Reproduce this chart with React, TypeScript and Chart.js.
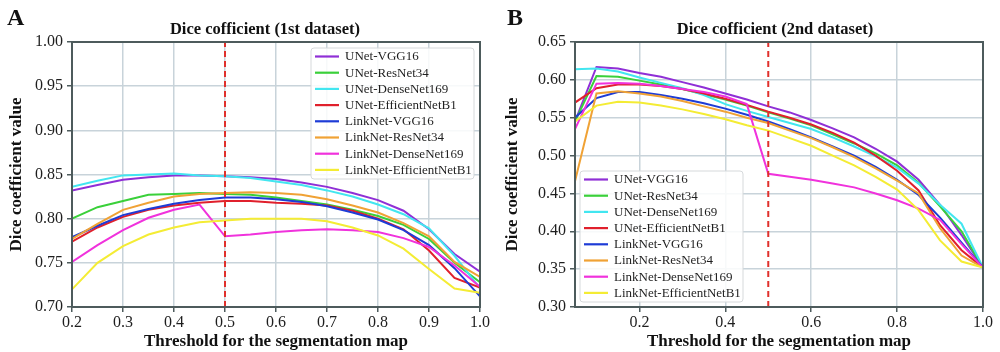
import React, { useEffect, useRef } from "react";
import { Chart, registerables } from "chart.js";

Chart.register(...registerables);

// ---------- data ----------
const seriesNames = [
  "UNet-VGG16",
  "UNet-ResNet34",
  "UNet-DenseNet169",
  "UNet-EfficientNetB1",
  "LinkNet-VGG16",
  "LinkNet-ResNet34",
  "LinkNet-DenseNet169",
  "LinkNet-EfficientNetB1",
];
const seriesColors = [
  "#8f2fd6",
  "#3ad03a",
  "#42e6f0",
  "#e0202c",
  "#1e3cd6",
  "#f0a235",
  "#f032dc",
  "#f4ec34",
];

const thresholds1 = [0.2, 0.25, 0.3, 0.35, 0.4, 0.45, 0.5, 0.55, 0.6, 0.65, 0.7, 0.75, 0.8, 0.85, 0.9, 0.95, 1.0];
const unetVgg16A = [0.832, 0.838, 0.844, 0.847, 0.849, 0.849, 0.848, 0.847, 0.845, 0.841, 0.836, 0.829, 0.821, 0.809, 0.788, 0.76, 0.74];
const unetResNet34A = [0.8, 0.813, 0.82, 0.827, 0.828, 0.829, 0.828, 0.827, 0.824, 0.82, 0.816, 0.81, 0.803, 0.793, 0.777, 0.75, 0.728];
const unetDenseNet169A = [0.836, 0.843, 0.849, 0.85, 0.851, 0.849, 0.848, 0.846, 0.842, 0.838, 0.832, 0.825, 0.816, 0.805, 0.789, 0.758, 0.721];
const unetEffB1A = [0.774, 0.79, 0.802, 0.81, 0.815, 0.818, 0.82, 0.82, 0.818, 0.817, 0.815, 0.809, 0.8, 0.788, 0.764, 0.733, 0.722];
const linkVgg16A = [0.779, 0.792, 0.804, 0.811, 0.817, 0.821, 0.824, 0.824, 0.822, 0.819, 0.814, 0.807, 0.799, 0.787, 0.77, 0.744, 0.712];
const linkResNet34A = [0.777, 0.794, 0.81, 0.818, 0.825, 0.828, 0.829, 0.83, 0.829, 0.827, 0.822, 0.815, 0.807, 0.795, 0.78, 0.751, 0.734];
const linkDenseNet169A = [0.751, 0.77, 0.787, 0.801, 0.81, 0.816, 0.78, 0.782, 0.785, 0.787, 0.788, 0.787, 0.785, 0.778, 0.768, 0.747, 0.723];
const linkEffB1A = [0.72, 0.75, 0.769, 0.782, 0.79, 0.796, 0.798, 0.8, 0.8, 0.8, 0.797, 0.79, 0.781, 0.766, 0.743, 0.721, 0.716];

const thresholds2 = [0.05, 0.1, 0.15, 0.2, 0.25, 0.3, 0.35, 0.4, 0.45, 0.5, 0.55, 0.6, 0.65, 0.7, 0.75, 0.8, 0.85, 0.9, 0.95, 1.0];
const unetVgg16B = [0.545, 0.617, 0.615, 0.609, 0.604, 0.597, 0.59, 0.582, 0.574, 0.565, 0.557, 0.547, 0.536, 0.524, 0.509, 0.492, 0.468, 0.435, 0.395, 0.352];
const unetResNet34B = [0.545, 0.605, 0.604, 0.599, 0.594, 0.588, 0.581, 0.574, 0.566, 0.557, 0.549, 0.54, 0.528, 0.516, 0.503, 0.487, 0.464, 0.433, 0.4, 0.352];
const unetDenseNet169B = [0.614, 0.615, 0.611, 0.603, 0.596, 0.589, 0.58, 0.568, 0.559, 0.551, 0.543, 0.535, 0.524, 0.512, 0.499, 0.484, 0.463, 0.435, 0.41, 0.352];
const unetEffB1B = [0.57, 0.589, 0.594, 0.594, 0.592, 0.588, 0.582, 0.575, 0.567, 0.558, 0.55, 0.541, 0.53, 0.517, 0.5, 0.48, 0.454, 0.408, 0.375, 0.352];
const linkVgg16B = [0.55, 0.576, 0.584, 0.584, 0.58, 0.575, 0.569, 0.562, 0.554, 0.545, 0.535, 0.524, 0.512, 0.5, 0.485, 0.468, 0.448, 0.418, 0.385, 0.352];
const linkResNet34B = [0.466, 0.582, 0.585, 0.582, 0.578, 0.572, 0.565, 0.558, 0.55, 0.543, 0.533, 0.523, 0.511, 0.498, 0.483, 0.467, 0.45, 0.404, 0.368, 0.352];
const linkDenseNet169B = [0.535, 0.595, 0.596, 0.595, 0.592, 0.588, 0.584, 0.578, 0.568, 0.476, 0.472, 0.468, 0.463, 0.458, 0.45, 0.441, 0.43, 0.415, 0.383, 0.352];
const linkEffB1B = [0.545, 0.566, 0.571, 0.57, 0.566, 0.561, 0.555, 0.548, 0.54, 0.533, 0.523, 0.513, 0.5, 0.487, 0.472, 0.455, 0.428, 0.388, 0.36, 0.352];

const xTicksA = [0.2, 0.3, 0.4, 0.5, 0.6, 0.7, 0.8, 0.9, 1.0];
const yTicksA = [0.7, 0.75, 0.8, 0.85, 0.9, 0.95, 1.0];
const xTicksB = [0.2, 0.4, 0.6, 0.8, 1.0];
const yTicksB = [0.3, 0.35, 0.4, 0.45, 0.5, 0.55, 0.6, 0.65];
const cutoffThreshold = 0.5;

const titleA = "Dice cofficient (1st dataset)";
const titleB = "Dice cofficient (2nd dataset)";
const xAxisTitle = "Threshold for the segmentation map";
const yAxisTitle = "Dice coefficient value";

// ---------- styling ----------
const SERIF = "'Liberation Serif', 'Times New Roman', serif";
const FRAME = "#4d5b5c";
const GRID = "#c8d3da";
const TEXT = "#1e1e1e";

type Panel = {
  letter: string;
  title: string;
  titleX: number;
  xs: number[];
  series: number[][];
  xMin: number;
  xMax: number;
  yMin: number;
  yMax: number;
  xTicks: number[];
  yTicks: number[];
  xDecimals: number;
  yAxisWidth: number;
  rightPad: number;
  yTitlePad: number;
  legendCorner: "topright" | "bottomleft";
};

const panels: Panel[] = [
  {
    letter: "A",
    title: titleA,
    titleX: 265,
    xs: thresholds1,
    series: [unetVgg16A, unetResNet34A, unetDenseNet169A, unetEffB1A, linkVgg16A, linkResNet34A, linkDenseNet169A, linkEffB1A],
    xMin: 0.2,
    xMax: 1.0,
    yMin: 0.7,
    yMax: 1.0,
    xTicks: xTicksA,
    yTicks: yTicksA,
    xDecimals: 1,
    yAxisWidth: 72,
    rightPad: 20,
    yTitlePad: 6,
    legendCorner: "topright",
  },
  {
    letter: "B",
    title: titleB,
    titleX: 275,
    xs: thresholds2,
    series: [unetVgg16B, unetResNet34B, unetDenseNet169B, unetEffB1B, linkVgg16B, linkResNet34B, linkDenseNet169B, linkEffB1B],
    xMin: 0.05,
    xMax: 1.0,
    yMin: 0.3,
    yMax: 0.65,
    xTicks: xTicksB,
    yTicks: yTicksB,
    xDecimals: 1,
    yAxisWidth: 75,
    rightPad: 17,
    yTitlePad: 2,
    legendCorner: "bottomleft",
  },
];

function makeDecor(p: Panel) {
  return {
    id: "decor" + p.letter,
    afterDraw(chart: any) {
      const { ctx, chartArea } = chart;
      const { left, right, top, bottom } = chartArea;
      ctx.save();
      // frame
      ctx.strokeStyle = FRAME;
      ctx.lineWidth = 2;
      ctx.strokeRect(left, top, right - left, bottom - top);
      // panel letter
      ctx.fillStyle = "#111";
      ctx.font = `bold 24px ${SERIF}`;
      ctx.textAlign = "left";
      ctx.textBaseline = "alphabetic";
      ctx.fillText(p.letter, 7, 25);
      // title
      ctx.font = `bold 16.5px ${SERIF}`;
      ctx.textAlign = "center";
      ctx.textBaseline = "middle";
      ctx.fillText(p.title, p.titleX, 30);
      // legend
      const boxW = 163;
      const rowH = 16.2;
      const boxH = 131;
      let bx: number, by: number;
      if (p.legendCorner === "topright") {
        bx = right - 6 - boxW;
        by = top + 6;
      } else {
        bx = left + 5;
        by = bottom - 5 - boxH;
      }
      ctx.beginPath();
      const r = 3;
      ctx.moveTo(bx + r, by);
      ctx.lineTo(bx + boxW - r, by);
      ctx.quadraticCurveTo(bx + boxW, by, bx + boxW, by + r);
      ctx.lineTo(bx + boxW, by + boxH - r);
      ctx.quadraticCurveTo(bx + boxW, by + boxH, bx + boxW - r, by + boxH);
      ctx.lineTo(bx + r, by + boxH);
      ctx.quadraticCurveTo(bx, by + boxH, bx, by + boxH - r);
      ctx.lineTo(bx, by + r);
      ctx.quadraticCurveTo(bx, by, bx + r, by);
      ctx.closePath();
      ctx.fillStyle = "rgba(255,255,255,0.85)";
      ctx.fill();
      ctx.strokeStyle = "#d6d9db";
      ctx.lineWidth = 1;
      ctx.stroke();
      ctx.font = `13px ${SERIF}`;
      ctx.textAlign = "left";
      ctx.textBaseline = "middle";
      seriesNames.forEach((name, i) => {
        const cy = by + 8.5 + i * rowH;
        ctx.strokeStyle = seriesColors[i];
        ctx.lineWidth = 2.2;
        ctx.beginPath();
        ctx.moveTo(bx + 4, cy);
        ctx.lineTo(bx + 28, cy);
        ctx.stroke();
        ctx.fillStyle = TEXT;
        ctx.fillText(name, bx + 34, cy + 0.5);
      });
      ctx.restore();
    },
  };
}

function PanelChart({ p }: { p: Panel }) {
  const ref = useRef<HTMLCanvasElement | null>(null);
  useEffect(() => {
    if (!ref.current) return;
    const datasets: any[] = p.series.map((vals, i) => ({
      label: seriesNames[i],
      data: p.xs.map((x, j) => ({ x, y: vals[j] })),
      borderColor: seriesColors[i],
      backgroundColor: seriesColors[i],
      borderWidth: 2,
      pointRadius: 0,
      tension: 0,
      fill: false,
      order: 20 - i,
    }));
    datasets.push({
      label: "cutoff",
      data: [
        { x: cutoffThreshold, y: p.yMin },
        { x: cutoffThreshold, y: p.yMax },
      ],
      borderColor: "#e0302c",
      borderWidth: 2,
      borderDash: [6, 4],
      pointRadius: 0,
      fill: false,
      order: 0,
    });
    const chart = new Chart(ref.current, {
      type: "line",
      data: { datasets },
      plugins: [makeDecor(p)],
      options: {
        animation: false,
        responsive: false,
        layout: { padding: { top: 42, right: p.rightPad, left: 0, bottom: 0 } },
        plugins: { legend: { display: false }, tooltip: { enabled: false }, title: { display: false } },
        scales: {
          x: {
            type: "linear",
            min: p.xMin,
            max: p.xMax,
            afterBuildTicks: (s: any) => {
              s.ticks = p.xTicks.map((v) => ({ value: v }));
            },
            afterFit: (s: any) => {
              s.height = 45;
            },
            grid: { color: GRID, lineWidth: 1.5, tickLength: 5, tickColor: FRAME, tickWidth: 1.5 },
            border: { color: FRAME, width: 2 },
            ticks: {
              padding: 1,
              color: TEXT,
              font: { family: SERIF, size: 16 },
              maxRotation: 0,
              autoSkip: false,
              callback: (v: any) => Number(v).toFixed(p.xDecimals),
            },
            title: {
              display: true,
              text: xAxisTitle,
              color: "#111",
              font: { family: SERIF, size: 17, weight: "bold" },
              padding: { top: 0, bottom: 0 },
            },
          },
          y: {
            type: "linear",
            min: p.yMin,
            max: p.yMax,
            afterBuildTicks: (s: any) => {
              s.ticks = p.yTicks.map((v) => ({ value: v }));
            },
            afterFit: (s: any) => {
              s.width = p.yAxisWidth;
            },
            grid: { color: GRID, lineWidth: 1.5, tickLength: 5, tickColor: FRAME, tickWidth: 1.5 },
            border: { color: FRAME, width: 2 },
            ticks: {
              padding: 4,
              color: TEXT,
              font: { family: SERIF, size: 16 },
              autoSkip: false,
              callback: (v: any) => Number(v).toFixed(2),
            },
            title: {
              display: true,
              text: yAxisTitle,
              color: "#111",
              font: { family: SERIF, size: 17, weight: "bold" },
              padding: { top: p.yTitlePad, bottom: 0 },
            },
          },
        },
      } as any,
    });
    return () => chart.destroy();
  }, [p]);
  return (
    <div style={{ width: 500, height: 352, position: "relative" }}>
      <canvas ref={ref} width={500} height={352} style={{ width: 500, height: 352, display: "block" }} />
    </div>
  );
}

export default function App() {
  return (
    <div style={{ position: "absolute", left: 0, top: 0, width: 1000, height: 352, display: "flex", background: "#fff" }}>
      {panels.map((p) => (
        <PanelChart key={p.letter} p={p} />
      ))}
    </div>
  );
}
